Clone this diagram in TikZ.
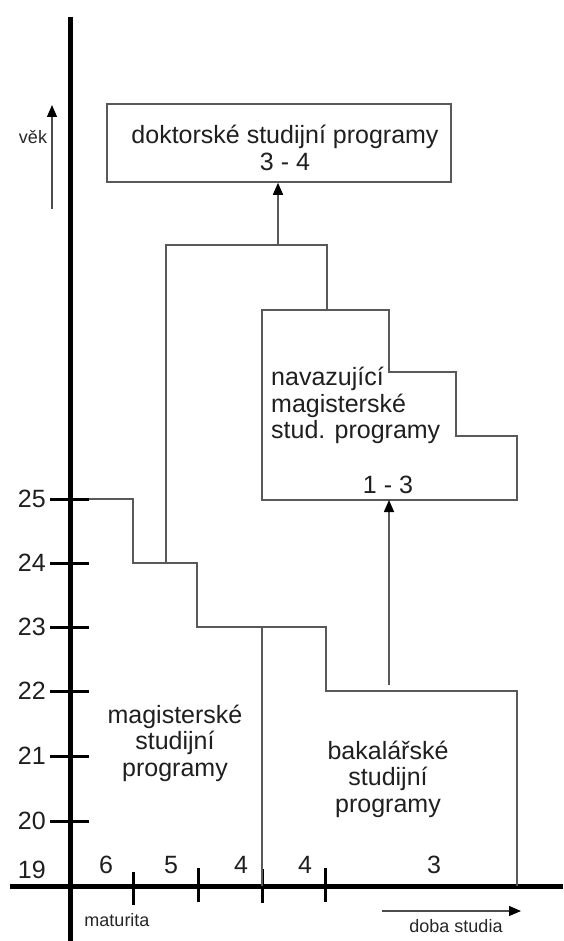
\documentclass[tikz,border=0pt]{standalone}
\usepackage{fontspec}
\setmainfont{Liberation Sans}
\usetikzlibrary{arrows.meta}
\begin{document}
\begin{tikzpicture}[x=1pt,y=-1pt,
  axis/.style={line width=5pt,black},
  tickmark/.style={line width=3pt,black},
  thinline/.style={line width=1.6pt,draw=black!65},
  lbl/.style={font=\fontsize{25}{26.5}\selectfont,text=black!88,inner sep=0pt},
  small/.style={font=\fontsize{18}{20}\selectfont,text=black!85,inner sep=0pt},
  arr/.style={-{Triangle[length=12pt,width=10pt,color=black]}}]
\useasboundingbox[fill=white] (0,0) rectangle (563,941);
% axes
\draw[axis] (70,17) -- (70,941);
\draw[axis] (10,886) -- (563,886);
% y ticks and labels
\foreach \yy/\t in {499/25,563/24,627/23,691/22,756/21,821/20}{
  \draw[tickmark] (50,\yy) -- (89,\yy);
  \node[lbl,anchor=east] (y\t) at (46,\yy) {\t};
}
\node[lbl,anchor=east] (y19) at (46,870) {19};
% x ticks
\draw[tickmark] (133,872) -- (133,905);
\draw[tickmark] (198,868) -- (198,902);
\draw[tickmark] (262,869) -- (262,903);
\draw[tickmark] (325,868) -- (325,902);
\node[lbl] (d6) at (106,865) {6};
\node[lbl] (d5) at (171,865) {5};
\node[lbl] (d4a) at (241,865) {4};
\node[lbl] (d4b) at (305,865) {4};
\node[lbl] (d3) at (434,865) {3};
% magisterske staircase
\draw[thinline] (89,499) -- (133,499) -- (133,563) -- (197,563) -- (197,627) -- (326,627) -- (326,691) -- (517,691) -- (517,886);
\draw[thinline] (262,627) -- (262,886);
% bracket to doctoral
\draw[thinline] (166,563) -- (166,245) -- (327,245) -- (327,310);
% doctoral box
\node[draw=black!65,line width=1.6pt,minimum width=344pt,minimum height=78pt,inner sep=0pt] (dok) at (279,143) {};
\node[lbl,align=center] (doktxt) at (285,148) {doktorské studijní programy\\3 - 4};
\coordinate (bj) at (278,245);
\draw[thinline,arr] (bj) -- (dok.south -| bj);
% navazujici
\draw[thinline] (262,310) -- (389,310) -- (389,372) -- (456,372) -- (456,436) -- (517,436) -- (517,500) -- (262,500) -- cycle;
\coordinate (navb) at (389,500);
\coordinate (bakt) at (389,685);
\draw[thinline,arr] (bakt) -- (navb);
\node[lbl,align=left,anchor=north west] (navtxt) at (271,367) {navazující\\magisterské\\stud. programy};
\node[lbl] (nav13) at (388,485) {1 - 3};
% region labels
\node[lbl,align=center] (magtxt) at (175,743) {magisterské\\studijní\\programy};
\node[lbl,align=center] (baktxt) at (388,779) {bakalářské\\studijní\\programy};
% vek arrow
\coordinate (va) at (52,209);
\coordinate (vb) at (52,105);
\draw[line width=1.2pt,black!70,arr] (va) -- (vb);
\node[small] (vek) at (33,137) {věk};
% doba studia
\coordinate (da) at (382,911);
\coordinate (db) at (521,911);
\draw[line width=1.2pt,black!70,arr] (da) -- (db);
\node[small] (doba) at (456,926) {doba studia};
\node[small] (mat) at (117,920) {maturita};
\end{tikzpicture}
\end{document}
